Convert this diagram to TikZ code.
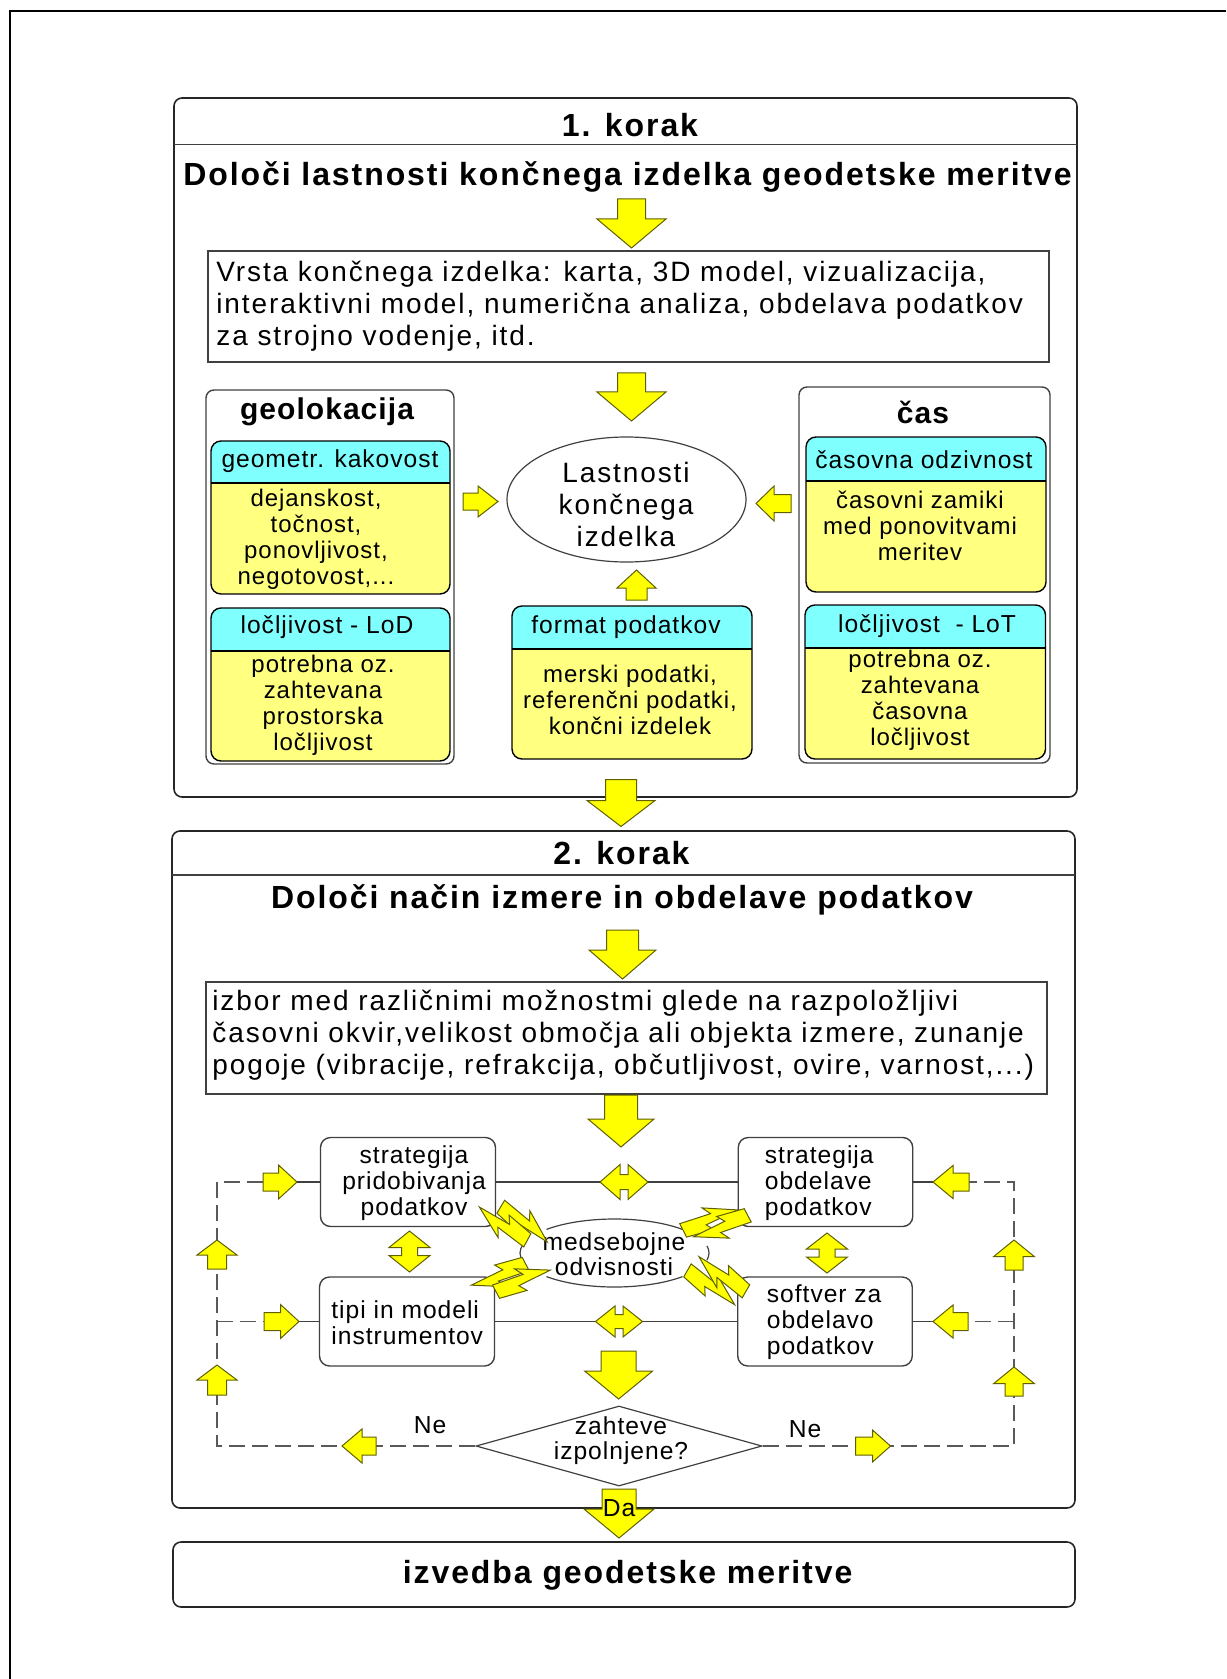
\documentclass[tikz,border=0pt]{standalone}
\usepackage{fontspec}
\setmainfont{Liberation Sans}
\newfontfamily\spacedA[LetterSpace=4]{Liberation Sans}
\newfontfamily\spacedB[LetterSpace=6.8]{Liberation Sans}
\newfontfamily\spacedT[LetterSpace=6]{Liberation Sans}
\newfontfamily\spacedG[LetterSpace=3.5]{Liberation Sans}
\usetikzlibrary{shapes.geometric}

\definecolor{arrowfill}{RGB}{255,255,0}
\definecolor{arrowline}{RGB}{96,96,0}
\definecolor{headcyan}{RGB}{128,255,255}
\definecolor{bodyyellow}{RGB}{255,255,128}
\definecolor{framegray}{RGB}{64,64,64}

\newcommand\fntSmall{\spacedA\fontsize{12.3}{13}\selectfont}
\newcommand\fntBody{\spacedA\fontsize{12}{13}\selectfont}
\newcommand\fntLarge{\spacedB\fontsize{14}{16}\selectfont}
\newcommand\fntTitle{\spacedT\bfseries\fontsize{16}{18}\selectfont}
\newcommand\fntGroup{\spacedG\bfseries\fontsize{15}{17}\selectfont}

% block arrow: tail centre x, y, direction, length, head length, head half width, shaft half width
\newcommand{\BlockArrow}[7]{%
  \begin{scope}[shift={(#1,#2)}, rotate=#3]
    \draw[yarrow] (0,-#7) -- ({#4-#5},-#7) -- ({#4-#5},-#6) -- (#4,0)
      -- ({#4-#5},#6) -- ({#4-#5},#7) -- (0,#7) -- cycle;
  \end{scope}}
% two-headed arrow: centre x, y, direction, half length, head length, head half width, shaft half width
\newcommand{\DoubleArrow}[7]{%
  \begin{scope}[shift={(#1,#2)}, rotate=#3]
    \draw[yarrow] (-#4,0) -- ({-#4+#5},-#6) -- ({-#4+#5},-#7) -- ({#4-#5},-#7)
      -- ({#4-#5},-#6) -- (#4,0) -- ({#4-#5},#6) -- ({#4-#5},#7)
      -- ({-#4+#5},#7) -- ({-#4+#5},#6) -- cycle;
  \end{scope}}
% lightning bolt: wide end at x, y, pointing in the given direction
\newcommand{\Bolt}[3]{%
  \begin{scope}[shift={(#1,#2)}, rotate=#3]
    \draw[yarrow] (0,-9) -- (32,-4) -- (27,-13) -- (58,5) -- (23,4) -- (28,12) -- (0,6) -- cycle;
  \end{scope}}
% property box with cyan header: x1, top, x2, header rule, bottom
\newcommand{\SubBox}[5]{%
  \begin{scope}
    \clip[rounded corners=5pt] (#1,#2) rectangle (#3,#5);
    \fill[bodyyellow] (#1,#2) rectangle (#3,#5);
    \fill[headcyan] (#1,#2) rectangle (#3,#4);
  \end{scope}
  \draw[line width=0.6pt] (#1,#4) -- (#3,#4);
  \draw[line width=0.7pt, rounded corners=5pt] (#1,#2) rectangle (#3,#5);}

\begin{document}
\begin{tikzpicture}[x=0.5pt, y=-0.5pt,
  yarrow/.style={fill=arrowfill, draw=arrowline, line width=0.5pt, line join=miter},
  stepbox/.style={draw=black!85, line width=0.8pt, rounded corners=4pt, inner sep=0pt},
  steprule/.style={draw=black!75, line width=0.8pt},
  groupbox/.style={draw=framegray, line width=0.7pt, rounded corners=4pt, inner sep=0pt},
  plainbox/.style={draw=framegray, line width=0.7pt, inner sep=0pt},
  procbox/.style={draw=framegray, line width=0.7pt, rounded corners=5pt, inner sep=0pt},
  connector/.style={draw=framegray, line width=0.7pt},
  loopline/.style={draw=black!65, line width=0.6pt, dash pattern=on 8pt off 3.5pt},
  thinline/.style={draw=framegray, line width=0.6pt},
  txt/.style={inner sep=0pt, font=\fntSmall, align=center},
  bodytxt/.style={inner sep=0pt, font=\fntBody, align=center},
  largetxt/.style={inner sep=0pt, font=\fntLarge},
  titletxt/.style={inner sep=0pt, font=\fntTitle},
  grouptxt/.style={inner sep=0pt, font=\fntGroup}]
\useasboundingbox (0,0) rectangle (1226,1679);

% page frame
\draw[line width=1pt] (1226,11) -- (10,11) -- (10,1679);

% ---------------- step 1 ----------------
\node[stepbox, minimum width=451.5pt, minimum height=349.5pt] (step1) at (625.5,447.5) {};
\draw[steprule] (174,144.5) -- (1077,144.5);
\node[titletxt] (step1no) at (630,125) {1. korak};
\node[titletxt] (step1goal) at (627.5,177) {Določi lastnosti končnega izdelka geodetske meritve};
\BlockArrow{631.5}{199}{-90}{49}{29}{34.5}{14}

\node[plainbox, minimum width=420.5pt, minimum height=55.5pt] (kinds) at (628.5,306.5) {};
\node[largetxt, anchor=west, align=left] (kindstext) at (216,306) {Vrsta končnega izdelka: karta, 3D model, vizualizacija,\\interaktivni model, numerična analiza, obdelava podatkov\\za strojno vodenje, itd.};
\BlockArrow{631.5}{373}{-90}{48}{29}{34.5}{14}

% geolocation group
\node[groupbox, minimum width=124pt, minimum height=187pt] (geo) at (330,577) {};
\node[grouptxt] (geotitle) at (327,412) {geolokacija};
\SubBox{211}{441}{450}{483}{594}
\node[txt] (geoqh) at (330,461) {geometr. kakovost};
\node[bodytxt] (geoqb) at (316,539.5) {dejanskost,\\točnost,\\ponovljivost,\\negotovost,...};
\SubBox{211}{608}{450}{651}{761}
\node[txt] (lodh) at (327,627) {ločljivost - LoD};
\node[bodytxt] (lodb) at (323,705.5) {potrebna oz.\\zahtevana\\prostorska\\ločljivost};

% time group
\node[groupbox, minimum width=125.5pt, minimum height=188pt] (time) at (924.5,575) {};
\node[grouptxt] (timetitle) at (923,412) {čas};
\SubBox{806}{437}{1046}{481}{592}
\node[txt] (resph) at (924,460) {časovna odzivnost};
\node[bodytxt] (respb) at (920,526) {časovni zamiki\\med ponovitvami\\meritev};
\SubBox{805}{605}{1045.5}{648}{759}
\node[txt] (loth) at (927,626) {ločljivost~ - LoT};
\node[bodytxt] (lotb) at (920,700.5) {potrebna oz.\\zahtevana\\časovna\\ločljivost};

% data format
\SubBox{512}{606}{752}{649}{759}
\node[txt] (fmth) at (626,627) {format podatkov};
\node[bodytxt] (fmtb) at (630,700) {merski podatki,\\referenčni podatki,\\končni izdelek};

% product properties
\node[ellipse, thinline, minimum width=119.5pt, minimum height=62.5pt, inner sep=0pt] (props) at (626.5,499.5) {};
\node[largetxt, align=center] (propstext) at (626,504) {Lastnosti\\končnega\\izdelka};
\BlockArrow{463}{501.5}{0}{35}{20}{15.5}{8.5}
\BlockArrow{791}{503.5}{180}{35}{18}{17.5}{9}
\BlockArrow{636.5}{600}{90}{30}{18}{19.5}{10.5}

\BlockArrow{621}{779.5}{-90}{47}{26}{34}{15.5}

% ---------------- step 2 ----------------
\node[stepbox, minimum width=451.5pt, minimum height=338.5pt] (step2) at (623.5,1169.5) {};
\draw[steprule] (172,875) -- (1075,875);
\node[titletxt] (step2no) at (621.5,853) {2. korak};
\node[titletxt] (step2goal) at (622,900) {Določi način izmere in obdelave podatkov};
\BlockArrow{622.5}{930}{-90}{49}{29}{33.5}{16}

\node[plainbox, minimum width=420.5pt, minimum height=56pt] (options) at (626.5,1038) {};
\node[largetxt, anchor=west, align=left] (optionstext) at (212,1035) {izbor med različnimi možnostmi glede na razpoložljivi\\časovni okvir,velikost območja ali objekta izmere, zunanje\\pogoje (vibracije, refrakcija, občutljivost, ovire, varnost,...)};
\BlockArrow{621}{1095}{-90}{52}{28}{33}{16.5}

% four decisions
\node[procbox, minimum width=87.5pt, minimum height=44.5pt] (sp) at (408,1182) {};
\node[procbox, minimum width=87.25pt, minimum height=44.5pt] (so) at (825.5,1182) {};
\node[procbox, minimum width=87.5pt, minimum height=44.5pt] (tp) at (407,1321.5) {};
\node[procbox, minimum width=87.25pt, minimum height=44.5pt] (sw) at (825,1321.5) {};
\node[txt] (sptext) at (414,1183) {strategija\\pridobivanja\\podatkov};
\node[txt, align=left, anchor=west] (tptext) at (331,1323) {tipi in modeli\\instrumentov};
\node[txt, align=left, anchor=west] (sotext) at (764.5,1183.5) {strategija\\obdelave\\podatkov};
\node[txt, align=left, anchor=west] (swtext) at (766.5,1322.5) {softver za\\obdelavo\\podatkov};

\draw[connector] (sp.east) -- (so.west);
\draw[connector] (tp.east) -- (sw.west);
\DoubleArrow{624}{1182}{0}{24}{20}{17.5}{7.5}
\DoubleArrow{619}{1321.5}{0}{23.5}{19.5}{15.5}{7}
\DoubleArrow{409.5}{1251.5}{90}{20.5}{16.5}{20.5}{8}
\DoubleArrow{827}{1253}{90}{20}{16}{20.5}{8}

% mutual dependencies
\node[txt, font=\spacedA\fontsize{12.3}{12.5}\selectfont] (mutual) at (614,1254.5) {medsebojne\\odvisnosti};
\draw[thinline] (614.5,1253) ++(44:94.5 and 34) arc[start angle=44, end angle=136, x radius=94.5, y radius=34];
\draw[thinline] (614.5,1253) ++(224:94.5 and 34) arc[start angle=224, end angle=316, x radius=94.5, y radius=34];
\draw[thinline] (614.5,1253) ++(165:94.5 and 34) arc[start angle=165, end angle=195, x radius=94.5, y radius=34];
\draw[thinline] (614.5,1253) ++(-12:94.5 and 34) arc[start angle=-12, end angle=12, x radius=94.5, y radius=34];
\Bolt{500}{1208}{-30.8}
\Bolt{528}{1239}{151.6}
\Bolt{683.8}{1231.7}{26.9}
\Bolt{747}{1214}{-152.1}
\Bolt{525}{1262.7}{-152.4}
\Bolt{496.7}{1293}{28.1}
\Bolt{686.7}{1271.7}{-29.6}
\Bolt{746.7}{1290}{150}

% check
\BlockArrow{618.6}{1351}{-90}{48}{28}{34}{17.5}
\node[diamond, thinline, minimum width=143pt, minimum height=40pt, inner sep=0pt] (check) at (619,1446) {};
\node[txt, font=\spacedA\fontsize{12.3}{12.5}\selectfont] (checktext) at (621,1440.5) {zahteve\\izpolnjene?};

% feedback loops
\coordinate (lbot) at (217,1446);
\coordinate (ltop) at (217,1182);
\coordinate (lmid) at (217,1321.5);
\coordinate (rbot) at (1014,1446);
\coordinate (rtop) at (1014,1182);
\coordinate (rmid) at (1014,1321.5);
\draw[loopline] (check.west) -- (lbot) -- (ltop) -- (sp.west);
\draw[loopline] (lmid) -- (tp.west);
\draw[loopline] (check.east) -- (rbot) -- (rtop) -- (so.east);
\draw[loopline] (rmid) -- (sw.east);
\coordinate (spin) at (297,1182);
\coordinate (tpin) at (299,1321.5);
\coordinate (soin) at (933,1182);
\coordinate (swin) at (933,1321.5);
\draw[connector] (spin) -- (sp.west);
\draw[connector] (tpin) -- (tp.west);
\draw[connector] (soin) -- (so.east);
\draw[connector] (swin) -- (sw.east);
\BlockArrow{263}{1182}{0}{34}{18.5}{17}{9}
\BlockArrow{264}{1321.5}{0}{35}{18.5}{17}{9}
\BlockArrow{217}{1269}{90}{29}{15}{20}{9.5}
\BlockArrow{217}{1395}{90}{30}{15}{20}{9.5}
\BlockArrow{376}{1446}{180}{34}{20}{17}{9}
\BlockArrow{969}{1182}{180}{36}{20}{16.5}{9}
\BlockArrow{968}{1321.5}{180}{35}{20}{16.5}{9}
\BlockArrow{1014}{1270}{90}{30}{16.7}{20.5}{9}
\BlockArrow{1014}{1396}{90}{29}{16.7}{20.5}{9}
\BlockArrow{855.5}{1446}{0}{35}{18}{16}{9}
\node[txt] (noleft) at (430,1425) {Ne};
\node[txt] (noright) at (805,1429) {Ne};

% ---------------- execution ----------------
\BlockArrow{619}{1489}{-90}{49}{29}{35}{17}
\node[txt] (yes) at (619,1508) {Da};
\node[stepbox, minimum width=451pt, minimum height=32.5pt] (final) at (624,1574.5) {};
\node[titletxt] (finaltext) at (627.6,1575) {izvedba geodetske meritve};
\end{tikzpicture}
\end{document}
